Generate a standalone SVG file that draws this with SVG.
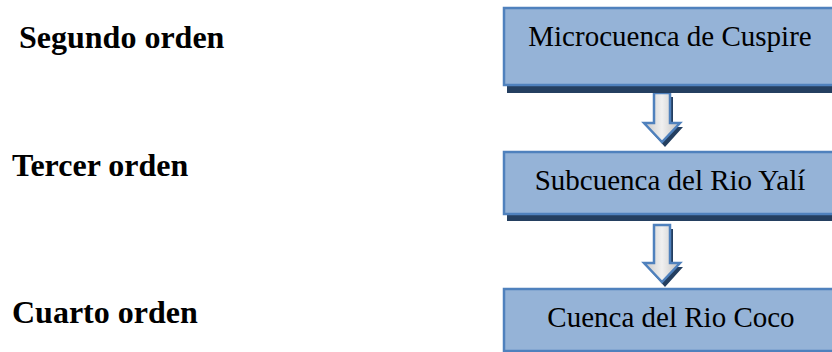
<svg xmlns="http://www.w3.org/2000/svg" width="832" height="352" viewBox="0 0 832 352">
<defs>
<linearGradient id="ag" x1="0" y1="0" x2="1" y2="0">
<stop offset="0" stop-color="#c8c8c8"/>
<stop offset="0.5" stop-color="#f0f0f0"/>
<stop offset="1" stop-color="#c0c0c0"/>
</linearGradient>
<style>
.box{fill:#95B3D7;stroke:#4F81BD;stroke-width:2.5}
.shadow{fill:#243F60}
.bt{font-size:29px;fill:#000;text-anchor:middle}
.lbl{font-size:32px;font-weight:bold;fill:#000}
.arr{fill:url(#ag);stroke:#4F81BD;stroke-width:2.5;stroke-linejoin:miter}
.arrs{fill:#243F60}
</style>
</defs>
<rect width="832" height="352" fill="#fff"/>
<g id="labels" font-family="'Liberation Serif', serif">
<text class="lbl" x="19" y="48">Segundo orden</text>
<text class="lbl" x="12" y="176">Tercer orden</text>
<text class="lbl" x="12" y="323">Cuarto orden</text>
</g>
<g id="connectors">
<polygon class="arrs" points="657,97 673,97 673,127 683,127 665,147 647,127 657,127"/>
<polygon class="arr" points="654,93 670,93 670,123 680,123 662,142 644,123 654,123"/>
<polygon class="arrs" points="657,229 673,229 673,267 683,267 665,287 647,267 657,267"/>
<polygon class="arr" points="654,225 670,225 670,263 680,263 662,282 644,263 654,263"/>
</g>
<g id="node1" font-family="'Liberation Serif', serif">
<rect class="shadow" x="507" y="15" width="330" height="78"/>
<rect class="box" x="504" y="8" width="330" height="77"/>
<text class="bt" x="670" y="46">Microcuenca de Cuspire</text>
</g>
<g id="node2" font-family="'Liberation Serif', serif">
<rect class="shadow" x="507" y="159" width="330" height="62"/>
<rect class="box" x="504" y="152" width="330" height="62"/>
<text class="bt" x="670" y="190">Subcuenca del Rio Yalí</text>
</g>
<g id="node3" font-family="'Liberation Serif', serif">
<rect class="shadow" x="507" y="296" width="330" height="62"/>
<rect class="box" x="504" y="289" width="330" height="62"/>
<text class="bt" x="671" y="327">Cuenca del Rio Coco</text>
</g>
</svg>
